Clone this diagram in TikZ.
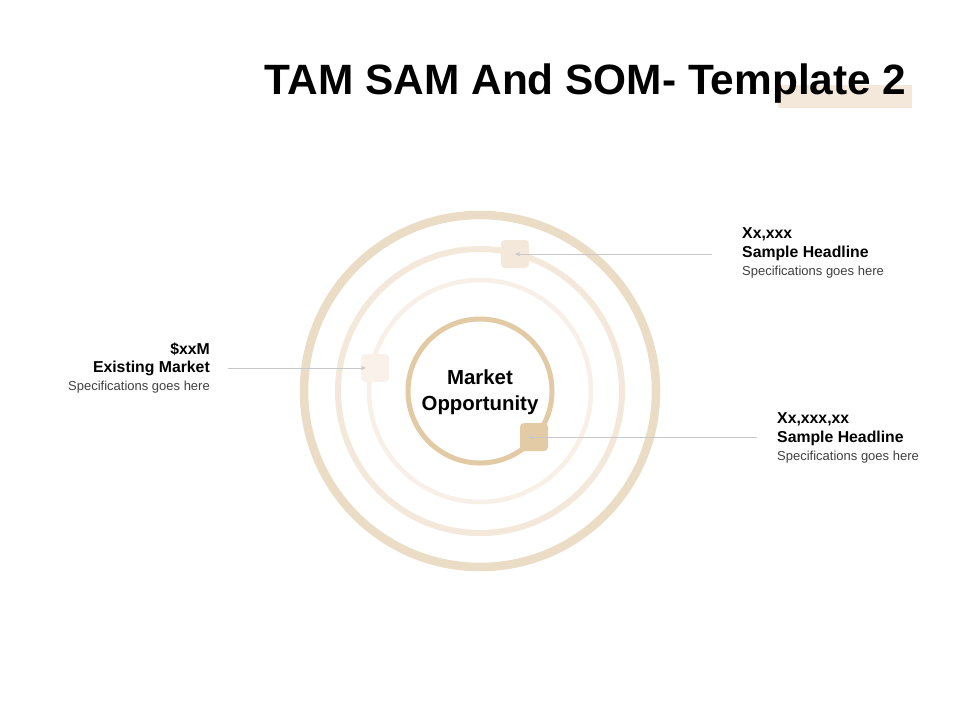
\documentclass[tikz,border=0pt]{standalone}
\usepackage{fontspec}
\setmainfont{Liberation Sans}
\usepackage{tikz}
\usetikzlibrary{arrows.meta}
\definecolor{ringA}{HTML}{EBDCC6}
\definecolor{ringB}{HTML}{F3E8D9}
\definecolor{ringC}{HTML}{F8F0E7}
\definecolor{ringD}{HTML}{E2CAA5}
\definecolor{markA}{HTML}{F4E8DB}
\definecolor{markB}{HTML}{FAF1EA}
\definecolor{markC}{HTML}{E3CBA6}
\definecolor{lineG}{HTML}{C8C8C8}

\begin{document}
\begin{tikzpicture}[x=1pt,y=-1pt]
\tikzstyle{marker}=[rounded corners=4pt, minimum size=28pt, inner sep=0pt]
\tikzstyle{head}=[font=\fontsize{15.8}{18}\selectfont\bfseries, inner sep=0pt]
\tikzstyle{spec}=[font=\fontsize{13}{15}\selectfont, text=black!75, inner sep=0pt]
\tikzstyle{link}=[draw=lineG, -{Stealth[length=5pt,width=4pt]}]
\useasboundingbox[fill=white] (0,0) rectangle (960,720);
% title
\fill[markA] (778,85) rectangle (912,108);
\node[font=\fontsize{42.4}{44}\selectfont\bfseries, anchor=east] (title) at (910,84) {TAM SAM And SOM- Template 2};
% rings
\draw[ringA, line width=8.5pt] (480,391) circle (176);
\draw[ringB, line width=6pt] (480,391) circle (142);
\draw[ringC, line width=4.5pt] (480,391) circle (111);
\draw[ringD, line width=5pt] (480,391) circle (72);
\node[font=\fontsize{20.4}{26}\selectfont\bfseries, align=center] (core) at (480,392) {Market\\Opportunity};
% markers
\node[marker, fill=markA] (m1) at (515,254) {};
\node[marker, fill=markB] (m2) at (375,368) {};
\node[marker, fill=markC] (m3) at (534,437) {};
% labels
\node[head, anchor=west] (t1) at (742,234) {Xx,xxx};
\node[head, anchor=west] (h1) at (742,253) {Sample Headline};
\node[spec, anchor=west] (s1) at (742,272) {Specifications goes here};
\node[head, anchor=east] (t2) at (210,349) {\$xxM};
\node[head, anchor=east] (h2) at (210,368) {Existing Market};
\node[spec, anchor=east] (s2) at (210,387) {Specifications goes here};
\node[head, anchor=west] (t3) at (777,419) {Xx,xxx,xx};
\node[head, anchor=west] (h3) at (777,438) {Sample Headline};
\node[spec, anchor=west] (s3) at (777,457) {Specifications goes here};
% connectors
\coordinate (e1) at (712,254);
\coordinate (e2) at (228,368);
\coordinate (e3) at (757,437);
\path[link] (e1) -- (m1.center);
\path[link] (e2) -- ([xshift=-9pt]m2.center);
\path[link] (e3) -- ([xshift=-6pt]m3.center);
\end{tikzpicture}
\end{document}
